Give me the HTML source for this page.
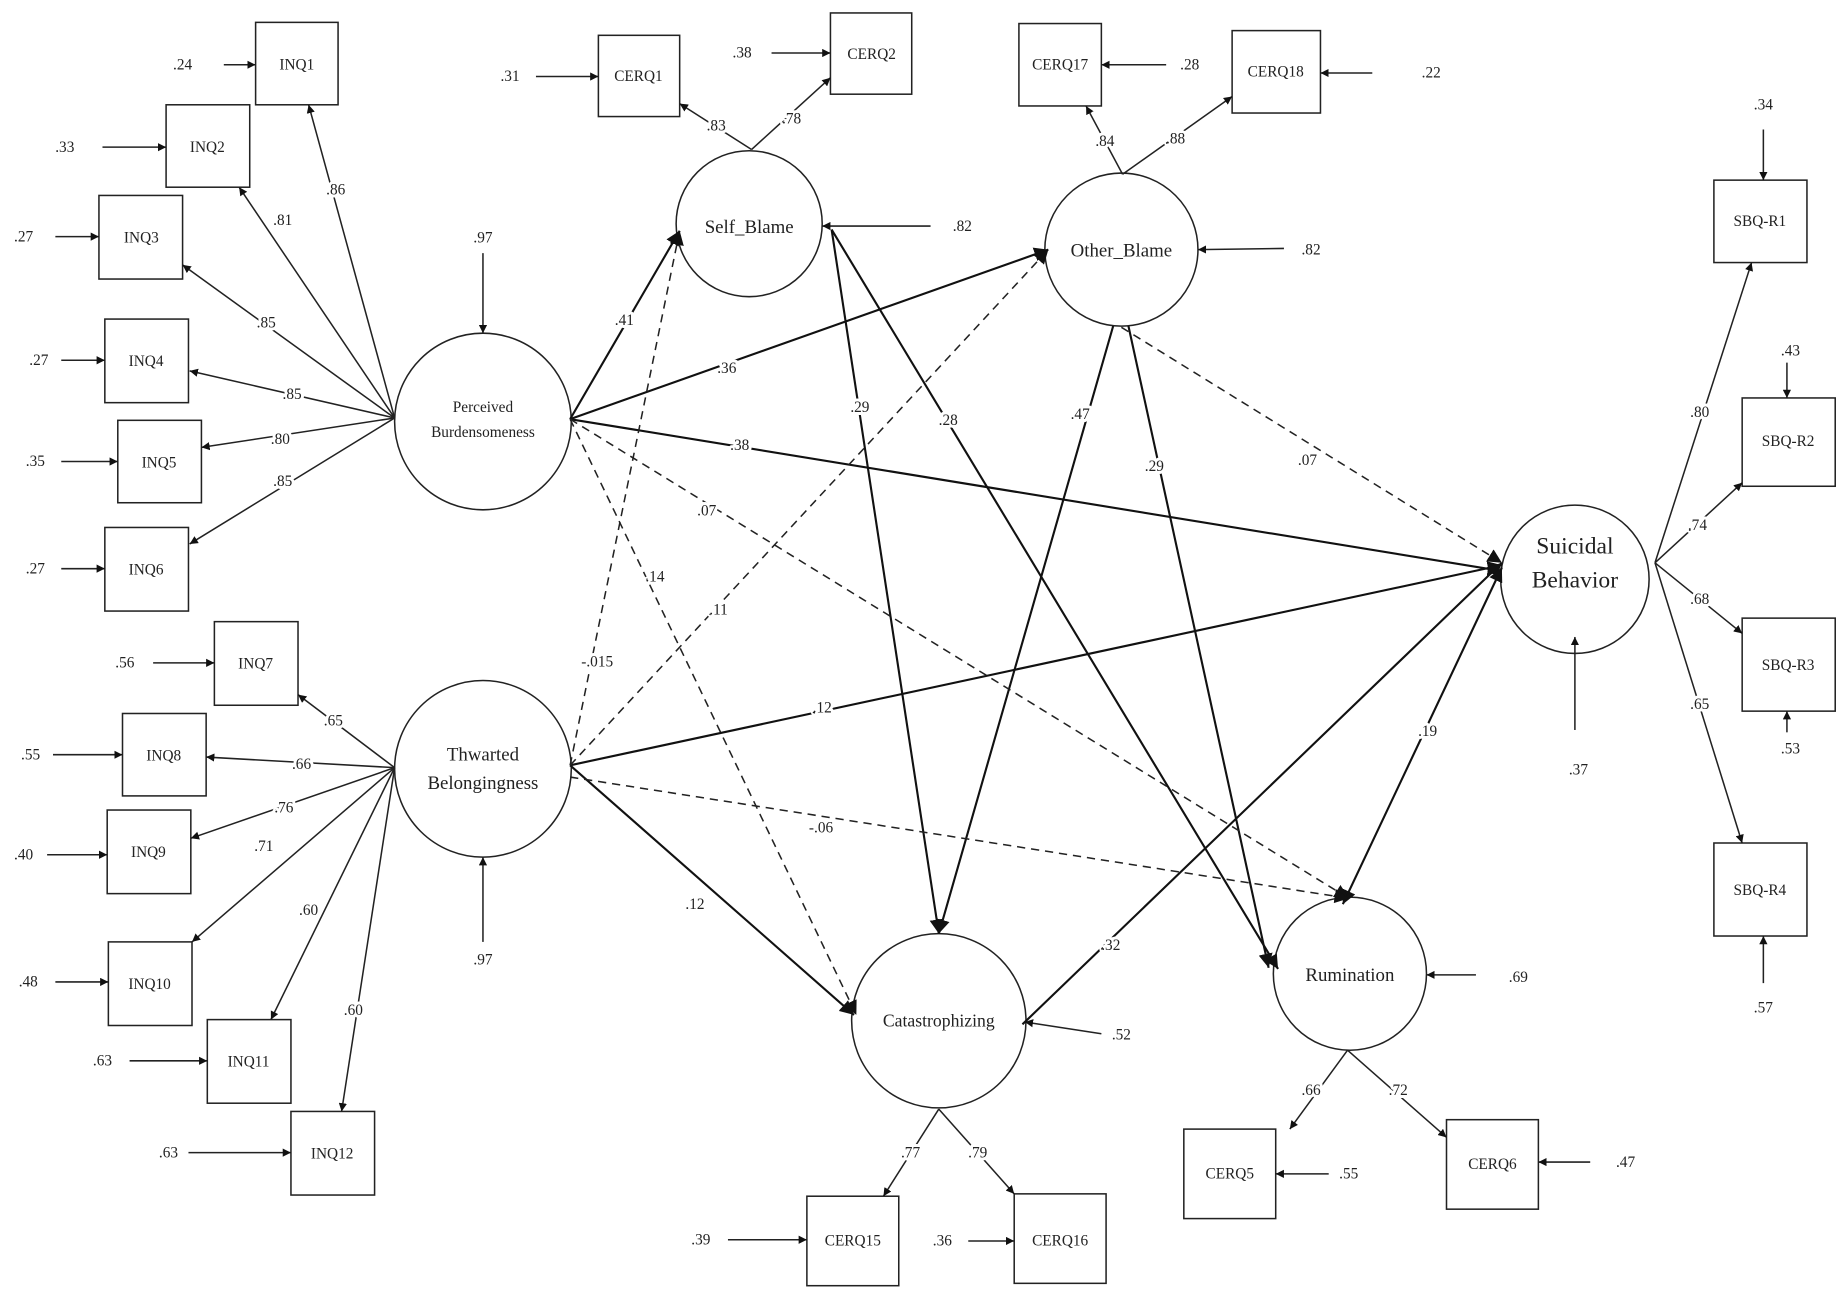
<!DOCTYPE html>
<html><head><meta charset="utf-8"><style>
html,body{margin:0;padding:0;background:#fff;}
svg{display:block;}
text{font-family:"Liberation Serif",serif;fill:#222;}
.lab text{stroke:#fff;stroke-width:5px;paint-order:stroke;stroke-linejoin:round;}
</style></head><body>
<svg width="1847" height="1301" viewBox="0 0 1568 1105" preserveAspectRatio="none" xmlns="http://www.w3.org/2000/svg">
<defs>
<marker id="a" viewBox="0 0 10 10" refX="10" refY="5" markerWidth="7" markerHeight="7" orient="auto" markerUnits="userSpaceOnUse"><path d="M0,0L10,5L0,10z" fill="#111"/></marker>
<marker id="b" viewBox="0 0 10 10" refX="10" refY="5" markerWidth="12" markerHeight="12" orient="auto" markerUnits="userSpaceOnUse"><path d="M0,0L10,5L0,10z" fill="#111"/></marker>
<marker id="s" viewBox="0 0 10 10" refX="0" refY="5" markerWidth="12" markerHeight="12" orient="auto" markerUnits="userSpaceOnUse"><path d="M10,0L0,5L10,10z" fill="#111"/></marker>
</defs>
<g fill="none" stroke="#222" stroke-width="1.3">
<rect x="217" y="19" width="70" height="70"/><rect x="141" y="89" width="71" height="70"/>
<rect x="84" y="166" width="71" height="71"/><rect x="89" y="271" width="71" height="71"/>
<rect x="100" y="357" width="71" height="70"/><rect x="89" y="448" width="71" height="71"/>
<rect x="182" y="528" width="71" height="71"/><rect x="104" y="606" width="71" height="70"/>
<rect x="91" y="688" width="71" height="71"/><rect x="92" y="800" width="71" height="71"/>
<rect x="176" y="866" width="71" height="71"/><rect x="247" y="944" width="71" height="71"/>
<rect x="508" y="30" width="69" height="69"/><rect x="705" y="11" width="69" height="69"/>
<rect x="865" y="20" width="70" height="70"/><rect x="1046" y="26" width="75" height="70"/>
<rect x="1455" y="153" width="79" height="70"/><rect x="1479" y="338" width="79" height="75"/>
<rect x="1479" y="525" width="79" height="79"/><rect x="1455" y="716" width="79" height="79"/>
<rect x="1005" y="959" width="78" height="76"/><rect x="1228" y="951" width="78" height="76"/>
<rect x="685" y="1016" width="78" height="76"/><rect x="861" y="1014" width="78" height="76"/>
<circle cx="410" cy="358" r="75"/><circle cx="636" cy="190" r="62"/><circle cx="952" cy="212" r="65"/>
<circle cx="410" cy="653" r="75"/><circle cx="1337" cy="492" r="63"/><circle cx="797" cy="867" r="74"/>
<circle cx="1146" cy="827" r="65"/>
</g>
<g stroke="#222" stroke-width="1.3" fill="none" marker-end="url(#a)">
<line x1="335" y1="355" x2="262" y2="89"/><line x1="335" y1="355" x2="203" y2="159"/>
<line x1="335" y1="355" x2="155" y2="225"/><line x1="335" y1="355" x2="161" y2="315"/>
<line x1="335" y1="355" x2="171" y2="380"/><line x1="335" y1="355" x2="161" y2="462"/>
<line x1="335" y1="652" x2="253" y2="590"/><line x1="335" y1="652" x2="175" y2="643"/>
<line x1="335" y1="652" x2="162" y2="712"/><line x1="335" y1="652" x2="163" y2="800"/>
<line x1="335" y1="652" x2="230" y2="866"/><line x1="335" y1="652" x2="290" y2="944"/>
<line x1="190" y1="55" x2="217" y2="55"/><line x1="87" y1="125" x2="141" y2="125"/>
<line x1="47" y1="201" x2="84" y2="201"/><line x1="52" y1="306" x2="89" y2="306"/>
<line x1="52" y1="392" x2="100" y2="392"/><line x1="52" y1="483" x2="89" y2="483"/>
<line x1="130" y1="563" x2="182" y2="563"/><line x1="45" y1="641" x2="104" y2="641"/>
<line x1="40" y1="726" x2="91" y2="726"/><line x1="47" y1="834" x2="92" y2="834"/>
<line x1="110" y1="901" x2="176" y2="901"/><line x1="160" y1="979" x2="247" y2="979"/>
<line x1="455" y1="65" x2="508" y2="65"/><line x1="655" y1="45" x2="705" y2="45"/>
<line x1="990" y1="55" x2="935" y2="55"/><line x1="1165" y1="62" x2="1121" y2="62"/>
<line x1="1497" y1="110" x2="1497" y2="153"/><line x1="1517" y1="308" x2="1517" y2="338"/>
<line x1="1517" y1="622" x2="1517" y2="604"/><line x1="1497" y1="835" x2="1497" y2="795"/>
<line x1="1128" y1="997" x2="1083" y2="997"/><line x1="1350" y1="987" x2="1306" y2="987"/>
<line x1="618" y1="1053" x2="685" y2="1053"/><line x1="822" y1="1054" x2="861" y2="1054"/>
<line x1="410" y1="215" x2="410" y2="283"/><line x1="410" y1="800" x2="410" y2="728"/>
<line x1="790" y1="192" x2="698" y2="192"/><line x1="1090" y1="211" x2="1017" y2="212"/>
<line x1="1337" y1="620" x2="1337" y2="541"/><line x1="935" y1="878" x2="870" y2="868"/>
<line x1="1253" y1="828" x2="1211" y2="828"/>
<line x1="638" y1="127" x2="705" y2="66"/><line x1="638" y1="127" x2="577" y2="88"/>
<line x1="953" y1="148" x2="922" y2="90"/><line x1="953" y1="148" x2="1046" y2="82"/>
<line x1="1405" y1="478" x2="1487" y2="223"/><line x1="1405" y1="478" x2="1479" y2="410"/>
<line x1="1405" y1="478" x2="1479" y2="538"/><line x1="1405" y1="478" x2="1479" y2="716"/>
<line x1="797" y1="942" x2="750" y2="1016"/><line x1="797" y1="942" x2="861" y2="1014"/>
<line x1="1144" y1="892" x2="1095" y2="959"/><line x1="1144" y1="892" x2="1228" y2="966"/>
</g>
<g stroke="#111" stroke-width="1.8" fill="none" marker-end="url(#b)">
<line x1="484" y1="356" x2="577" y2="196"/><line x1="484" y1="356" x2="890" y2="212"/>
<line x1="484" y1="356" x2="1275" y2="485"/><line x1="484" y1="650" x2="1275" y2="480"/>
<line x1="484" y1="650" x2="725" y2="862"/><line x1="706" y1="195" x2="797" y2="793"/>
<line x1="706" y1="195" x2="1085" y2="823"/><line x1="945" y1="277" x2="797" y2="793"/>
<line x1="958" y1="277" x2="1077" y2="822"/><line x1="868" y1="870" x2="1275" y2="478"/>
<line x1="1275" y1="482" x2="1140" y2="768" marker-start="url(#s)"/>
</g>
<g stroke="#222" stroke-width="1.3" fill="none" stroke-dasharray="7,5" marker-end="url(#b)">
<line x1="484" y1="356" x2="1145" y2="763"/><line x1="484" y1="356" x2="727" y2="862"/>
<line x1="484" y1="650" x2="577" y2="196"/><line x1="484" y1="650" x2="890" y2="212"/>
<line x1="484" y1="660" x2="1145" y2="763"/><line x1="952" y1="278" x2="1275" y2="478"/>
</g>
<g font-size="13" text-anchor="middle">
<text x="410" y="350">Perceived</text><text x="410" y="371">Burdensomeness</text>
<text x="410" y="646" font-size="16">Thwarted</text><text x="410" y="670" font-size="16">Belongingness</text>
<text x="636" y="198" font-size="16">Self_Blame</text><text x="952" y="218" font-size="16">Other_Blame</text>
<text x="1337" y="470" font-size="20">Suicidal</text><text x="1337" y="499" font-size="20">Behavior</text>
<text x="797" y="872" font-size="15">Catastrophizing</text><text x="1146" y="833" font-size="16">Rumination</text>
<text x="252" y="59">INQ1</text><text x="176" y="129">INQ2</text><text x="120" y="206">INQ3</text>
<text x="124" y="311">INQ4</text><text x="135" y="397">INQ5</text><text x="124" y="488">INQ6</text>
<text x="217" y="568">INQ7</text><text x="139" y="646">INQ8</text><text x="126" y="728">INQ9</text>
<text x="127" y="840">INQ10</text><text x="211" y="906">INQ11</text><text x="282" y="984">INQ12</text>
<text x="542" y="69">CERQ1</text><text x="740" y="50">CERQ2</text><text x="900" y="59">CERQ17</text>
<text x="1083" y="65">CERQ18</text><text x="1494" y="192">SBQ-R1</text><text x="1518" y="379">SBQ-R2</text>
<text x="1518" y="569">SBQ-R3</text><text x="1494" y="760">SBQ-R4</text><text x="1044" y="1001">CERQ5</text>
<text x="1267" y="993">CERQ6</text><text x="724" y="1058">CERQ15</text><text x="900" y="1058">CERQ16</text>
</g>
<g font-size="13" text-anchor="middle">
<text x="155" y="59">.24</text><text x="55" y="129">.33</text><text x="20" y="205">.27</text>
<text x="33" y="310">.27</text><text x="30" y="396">.35</text><text x="30" y="487">.27</text>
<text x="106" y="567">.56</text><text x="26" y="645">.55</text><text x="20" y="730">.40</text>
<text x="24" y="838">.48</text><text x="87" y="905">.63</text><text x="143" y="983">.63</text>
<text x="433" y="69">.31</text><text x="630" y="49">.38</text><text x="1010" y="59">.28</text>
<text x="1215" y="66">.22</text><text x="1497" y="93">.34</text><text x="1520" y="302">.43</text>
<text x="1520" y="640">.53</text><text x="1497" y="860">.57</text><text x="1145" y="1001">.55</text>
<text x="1380" y="991">.47</text><text x="595" y="1057">.39</text><text x="800" y="1058">.36</text>
<text x="410" y="206">.97</text><text x="410" y="819">.97</text><text x="817" y="196">.82</text>
<text x="1113" y="216">.82</text><text x="1340" y="658">.37</text><text x="952" y="883">.52</text>
<text x="1289" y="834">.69</text>
</g>
<g class="lab" font-size="13" text-anchor="middle">
<text x="285" y="165">.86</text><text x="240" y="191">.81</text><text x="226" y="278">.85</text>
<text x="248" y="339">.85</text><text x="238" y="377">.80</text><text x="240" y="413">.85</text>
<text x="283" y="616">.65</text><text x="256" y="653">.66</text><text x="241" y="690">.76</text>
<text x="224" y="723">.71</text><text x="262" y="777">.60</text><text x="300" y="862">.60</text>
<text x="608" y="111">.83</text><text x="672" y="105">.78</text><text x="938" y="124">.84</text>
<text x="998" y="122">.88</text><text x="1443" y="354">.80</text><text x="1441" y="450">.74</text>
<text x="1443" y="513">.68</text><text x="1443" y="602">.65</text><text x="773" y="983">.77</text>
<text x="830" y="983">.79</text><text x="1113" y="930">.66</text><text x="1187" y="930">.72</text>
<text x="530" y="276">.41</text><text x="617" y="317">.36</text><text x="628" y="382">.38</text>
<text x="600" y="438">.07</text><text x="556" y="494">.14</text><text x="507" y="566">-.015</text>
<text x="610" y="522">.11</text><text x="698" y="605">.12</text><text x="697" y="707">-.06</text>
<text x="590" y="772">.12</text><text x="730" y="350">.29</text><text x="805" y="361">.28</text>
<text x="917" y="356">.47</text><text x="980" y="400">.29</text><text x="1110" y="395">.07</text>
<text x="943" y="807">.32</text><text x="1212" y="625">.19</text>
</g>
</svg>
</body></html>
